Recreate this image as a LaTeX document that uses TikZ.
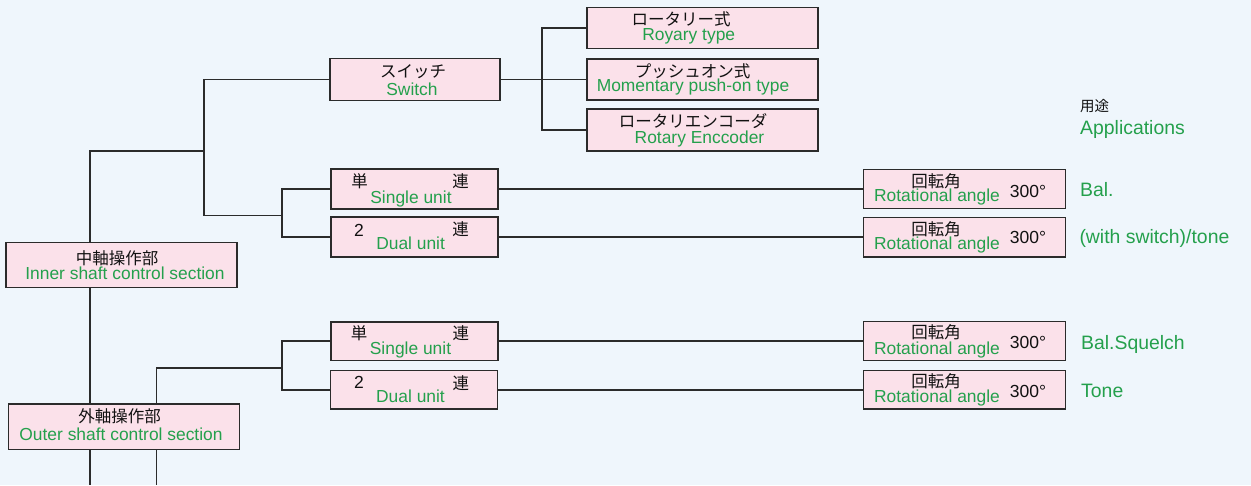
\documentclass[tikz,border=0pt]{standalone}
\usepackage{fontspec}
\setmainfont{Liberation Sans}
\newfontfamily\jp{Noto Sans CJK JP}
\definecolor{bgc}{HTML}{EFF6FC}
\definecolor{boxfill}{HTML}{FBE1EA}
\definecolor{boxline}{HTML}{2B2B2B}
\definecolor{txtgreen}{HTML}{24A04C}
\definecolor{txtblack}{HTML}{111111}
\begin{document}
\begin{tikzpicture}[x=1pt,y=-1pt,
  box/.style={draw=boxline, fill=boxfill, line width=1.6pt, inner sep=0pt, outer sep=0pt},
  conn/.style={draw=boxline, line width=1.6pt},
  en/.style={text=txtgreen, font=\fontsize{17.4}{20}\selectfont, inner sep=0pt, anchor=base},
  jpt/.style={text=txtblack, font=\jp\fontsize{16.5}{19}\selectfont, inner sep=0pt},
  num/.style={text=txtblack, font=\fontsize{17.5}{20}\selectfont, inner sep=0pt, anchor=base},
  lab/.style={text=txtgreen, font=\fontsize{19.4}{22}\selectfont, inner sep=0pt, anchor=base west},
  w231/.style={minimum width=231pt},
  w170/.style={minimum width=170pt},
  w167/.style={minimum width=167pt},
  w202/.style={minimum width=202pt}
]
\fill[bgc] (0,0) rectangle (1251,485);
\useasboundingbox (0,0) rectangle (1251,485);

% boxes
\node[box,w231,minimum height=41pt] (rot) at (702.5,27.8) {};
\node[box,w231,minimum height=41.5pt] (push) at (702.5,79.5) {};
\node[box,w231,minimum height=41.5pt] (enc) at (702.5,130) {};
\node[box,w170,minimum height=42pt] (sw) at (414.7,79.5) {};
\node[box,w167,minimum height=39.5pt] (us1) at (414.5,189) {};
\node[box,w167,minimum height=39.5pt] (ud1) at (414.5,237) {};
\node[box,w167,minimum height=38.6pt] (ls1) at (414.5,341) {};
\node[box,w167,minimum height=38.6pt] (ld1) at (414,389.7) {};
\node[box,w202,minimum height=39pt] (a1) at (964.3,189) {};
\node[box,w202,minimum height=39.4pt] (a2) at (964.3,237) {};
\node[box,w202,minimum height=39.3pt] (a3) at (964.3,341) {};
\node[box,w202,minimum height=38.7pt] (a4) at (964.3,389.7) {};
\node[box,w231,minimum height=45pt] (inner) at (121.7,264.8) {};
\node[box,w231,minimum height=45.3pt] (outer) at (123.8,426.7) {};

% texts in switch branch
\node[jpt] (rotj) at (681,19.5) {ロータリー式};
\node[en] (rote) at (688.7,40.7) {Royary type};
\node[jpt] (pushj) at (692.5,71.5) {プッシュオン式};
\node[en] (pushe) at (693,91.7) {Momentary push-on type};
\node[jpt] (encj) at (693,121.5) {ロータリエンコーダ};
\node[en] (ence) at (699.5,143.2) {Rotary Enccoder};
\node[jpt] (swj) at (413,71.5) {スイッチ};
\node[en] (swe) at (412,95) {Switch};

% unit boxes
\node[jpt] (us1a) at (359.5,181.5) {単};
\node[jpt] (us1b) at (460.5,181.5) {連};
\node[en] (us1e) at (411,203.3) {Single unit};
\node[num] (ud1a) at (359,236.7) {2};
\node[jpt] (ud1b) at (460.5,229.5) {連};
\node[en] (ud1e) at (410.6,249.3) {Dual unit};
\node[jpt] (ls1a) at (359,333.7) {単};
\node[jpt] (ls1b) at (460.8,333.5) {連};
\node[en] (ls1e) at (410.5,354) {Single unit};
\node[num] (ld1a) at (359,388.3) {2};
\node[jpt] (ld1b) at (460.8,383) {連};
\node[en] (ld1e) at (410.5,402.7) {Dual unit};

% angle boxes
\node[jpt] (a1j) at (936,181) {回転角};
\node[en] (a1e) at (937,201.7) {Rotational angle};
\node[num] (a1n) at (1028,197.3) {300°};
\node[jpt] (a2j) at (936,228.8) {回転角};
\node[en] (a2e) at (937,249.6) {Rotational angle};
\node[num] (a2n) at (1028,243.3) {300°};
\node[jpt] (a3j) at (936,332) {回転角};
\node[en] (a3e) at (937,354) {Rotational angle};
\node[num] (a3n) at (1028,348.3) {300°};
\node[jpt] (a4j) at (936,381.5) {回転角};
\node[en] (a4e) at (937,402.7) {Rotational angle};
\node[num] (a4n) at (1028,397.3) {300°};

% shaft boxes
\node[jpt] (innerj) at (117,258.5) {中軸操作部};
\node[en] (innere) at (125,279.5) {Inner shaft control section};
\node[jpt] (outerj) at (119.5,416.7) {外軸操作部};
\node[en] (outere) at (121,440.3) {Outer shaft control section};

% applications
\node[jpt,anchor=west,font=\jp\fontsize{14.5}{17}\selectfont] (appj) at (1080,106) {用途};
\node[lab] (appe) at (1080,134) {Applications};
\node[lab] (l1) at (1080,196.7) {Bal.};
\node[lab] (l2) at (1079.3,243) {(with switch)/tone};
\node[lab] (l3) at (1081,349.3) {Bal.Squelch};
\node[lab] (l4) at (1081,397.3) {Tone};

% junction coordinates
\coordinate (swk) at (542,79.5);
\coordinate (colA) at (89.7,150.7);
\coordinate (ij) at (203.7,150.7);
\coordinate (ubr) at (203.7,215.3);
\coordinate (uj) at (281.7,215.3);
\coordinate (colB) at (156.3,367.7);
\coordinate (lj) at (281.7,367.7);
\coordinate (botA) at (89.7,485);
\coordinate (botB) at (156.3,485);

% connectors
\draw[conn] (sw.east) -- (push.west);
\draw[conn] (rot.west) -| (swk) |- (enc.west);
\draw[conn] (colA |- inner.north) -- (colA) -- (ij);
\draw[conn] (sw.west) -| (ubr) -- (uj);
\draw[conn] (us1.west) -| (uj) |- (ud1.west);
\draw[conn] (colA |- inner.south) -- (colA |- outer.north);
\draw[conn] (colB |- outer.north) -- (colB) -- (lj);
\draw[conn] (ls1.west) -| (lj) |- (ld1.west);
\draw[conn] (colA |- outer.south) -- (botA);
\draw[conn] (colB |- outer.south) -- (botB);
\draw[conn] (us1.east) -- (a1.west);
\draw[conn] (ud1.east) -- (a2.west);
\draw[conn] (ls1.east) -- (a3.west);
\draw[conn] (ld1.east) -- (a4.west);
\end{tikzpicture}
\end{document}
